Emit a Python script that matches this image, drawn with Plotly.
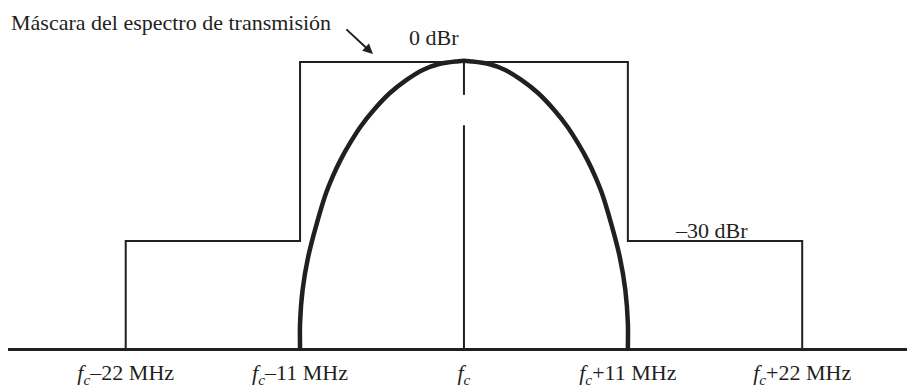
import plotly.graph_objects as go

# frequency offsets from fc (MHz, as placed in the schematic) and levels (dBr)
mask_f = [-22.7, -22.7, -11, -11, 11, 11, 22.7, 22.7]
mask_db = [-48, -30, -30, 0, 0, -30, -30, -48]

# main lobe of the spectrum
lobe_f = [-11.0, -11.0, -10.83, -10.45, -9.87, -9.26, -8.81, -8.28, -7.65, -6.93, -6.04, -4.97, -3.85,
          -2.73, -1.61, -0.49, 0,
          0.49, 1.61, 2.73, 3.85, 4.97, 6.04, 6.93, 7.65, 8.28, 8.81, 9.26, 9.87, 10.45, 10.83, 11.0, 11.0]
lobe_db = [-48, -43.8, -38.2, -32.6, -27.0, -22.0, -19.2, -16.4, -13.6, -10.8, -8.0, -5.2, -3.0,
           -1.3, -0.3, 0.1, 0.2,
           0.1, -0.3, -1.3, -3.0, -5.2, -8.0, -10.8, -13.6, -16.4, -19.2, -22.0, -27.0, -32.6, -38.2, -43.8, -48]

tick_f = [-22.7, -11, 0, 11, 22.7]
tick_text = ['<i>f<sub>c</sub></i>–22 MHz', '<i>f<sub>c</sub></i>–11 MHz', '<i>f<sub>c</sub></i>',
             '<i>f<sub>c</sub></i>+11 MHz', '<i>f<sub>c</sub></i>+22 MHz']

ink = '#231f20'
font = dict(family='Liberation Serif', size=22, color=ink)

fig = go.Figure()
fig.add_trace(go.Scatter(x=mask_f, y=mask_db, mode='lines', line=dict(color=ink, width=2), hoverinfo='skip'))
fig.add_trace(go.Scatter(x=[0, 0], y=[-48, -10.6], mode='lines', line=dict(color=ink, width=2), hoverinfo='skip'))
fig.add_trace(go.Scatter(x=[0, 0], y=[-5.5, 0.2], mode='lines', line=dict(color=ink, width=2), hoverinfo='skip'))
fig.add_trace(go.Scatter(x=lobe_f, y=lobe_db, mode='lines',
                         line=dict(color=ink, width=4.5, shape='spline', smoothing=0.8), hoverinfo='skip'))

fig.add_annotation(x=-30.55, y=6.7, text='Máscara del espectro de transmisión', showarrow=False,
                   xanchor='left', font=font)
fig.add_annotation(x=-6.11, y=1.34, ax=-7.99, ay=5.70, axref='x', ayref='y', text='',
                   showarrow=True, arrowhead=2, arrowsize=1, arrowwidth=2, arrowcolor=ink)
fig.add_annotation(x=-2.01, y=4.19, text='0 dBr', showarrow=False, font=font)
fig.add_annotation(x=16.64, y=-28.3, text='–30 dBr', showarrow=False, font=font)

# page body has an 8px margin, so the figure is 8px smaller and ranges start 8px in
fig.update_layout(
    width=907, height=379,
    margin=dict(l=0, r=0, t=0, b=39),
    plot_bgcolor='white', paper_bgcolor='white',
    showlegend=False,
    xaxis=dict(range=[-30.60, 30.27], showgrid=False, zeroline=False, showline=True, linewidth=2.5,
               linecolor=ink, tickvals=tick_f, ticktext=tick_text, ticks='', tickfont=font,
               ticklabelstandoff=3, fixedrange=True),
    yaxis=dict(range=[-47.93, 9.05], showgrid=False, zeroline=False, showticklabels=False,
               fixedrange=True),
)

fig.write_html('out.html')
